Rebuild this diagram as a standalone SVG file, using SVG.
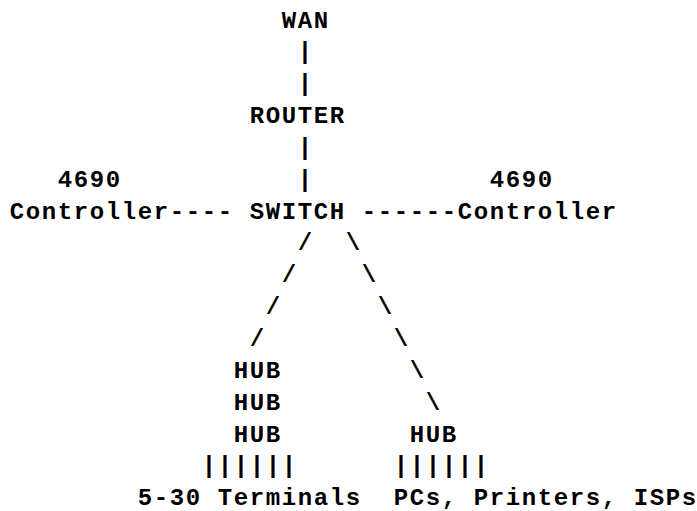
<svg xmlns="http://www.w3.org/2000/svg" width="697" height="511" viewBox="0 0 697 511">
<style>
text{font-family:"Liberation Mono","Courier New",monospace;font-weight:bold;font-size:24px;letter-spacing:1.6px;fill:#000;white-space:pre}
</style>
<rect width="697" height="511" fill="#fff"/>
<g transform="translate(0.8,0)">
<g id="connectors">
<text x="297" y="59.35">|</text>
<text x="297" y="91.2">|</text>
<text x="297" y="154.9">|</text>
<text x="297" y="186.75">|</text>
<text x="169" y="218.6">----</text>
<text x="361" y="218.6">------</text>
<text x="297" y="250.45">/</text>
<text x="345" y="250.45">\</text>
<text x="281" y="282.3">/</text>
<text x="361" y="282.3">\</text>
<text x="265" y="314.15">/</text>
<text x="377" y="314.15">\</text>
<text x="249" y="346">/</text>
<text x="393" y="346">\</text>
<text x="409" y="377.85">\</text>
<text x="425" y="409.7">\</text>
<text x="201" y="473.4">||||||</text>
<text x="393" y="473.4">||||||</text>
</g>
<g id="wan"><text x="281" y="27.5">WAN</text></g>
<g id="router"><text x="249" y="123.05">ROUTER</text></g>
<g id="switch"><text x="249" y="218.6">SWITCH</text></g>
<g id="controller-left"><text x="57" y="186.75">4690</text><text x="9" y="218.6">Controller</text></g>
<g id="controller-right"><text x="489" y="186.75">4690</text><text x="457" y="218.6">Controller</text></g>
<g id="hub-left"><text x="233" y="377.85">HUB</text><text x="233" y="409.7">HUB</text><text x="233" y="441.55">HUB</text></g>
<g id="hub-right"><text x="409" y="441.55">HUB</text></g>
<g id="terminals"><text x="137" y="505">5-30 Terminals</text></g>
<g id="pcs"><text x="393" y="505">PCs, Printers, ISPs</text></g>
</g>
</svg>
